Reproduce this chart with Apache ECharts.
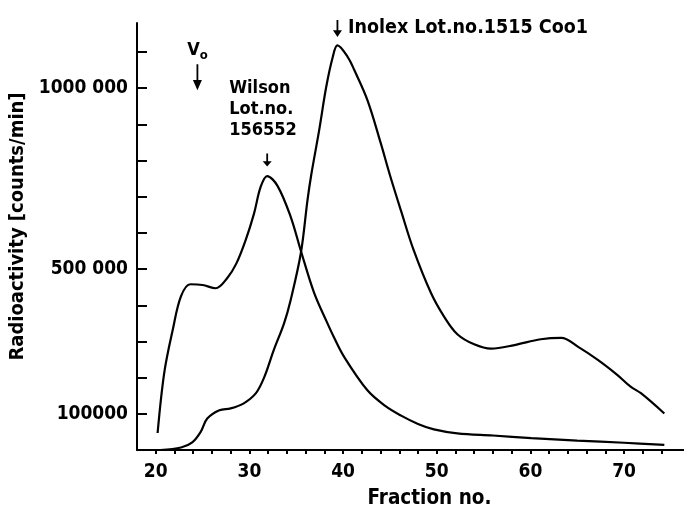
<!DOCTYPE html>
<html>
<head>
<meta charset="utf-8">
<script src="https://cdn.jsdelivr.net/npm/echarts@6/dist/echarts.min.js"></script>
<style>
  html, body { margin: 0; background: #fff; }
  #chart { width: 684px; height: 509px; }
</style>
</head>
<body>
<div id="chart"></div>
<script>
// values (fraction no. vs counts/min)
var wilsonX = [20.2, 20.9, 21.8, 22.7, 23.7, 25.0, 26.4, 27.6, 28.6, 29.6, 30.5, 31.2, 31.9, 33.0, 34.4, 35.5, 36.9, 38.3, 39.0, 40.1, 42.6, 44.5, 46.2, 48.0, 49.7, 52.2, 56.0, 60.1, 65.0, 70.0, 74.3];
var wilsonY = [47000, 212000, 330000, 425000, 458000, 456000, 447000, 474000, 515000, 580000, 654000, 727000, 757000, 730000, 645000, 550000, 435000, 352000, 313000, 258000, 165000, 122000, 95000, 72000, 57000, 46000, 40000, 33000, 26000, 20000, 14000];

var inolexX = [20.5, 22.7, 23.9, 24.8, 25.5, 26.8, 28.0, 29.4, 30.7, 31.6, 32.6, 33.7, 34.4, 35.5, 36.2, 36.6, 37.45, 38.2, 38.9, 39.4, 40.5, 41.2, 42.6, 44.0, 45.0, 46.2, 47.5, 49.4, 50.8, 52.2, 54.0, 55.8, 58.3, 61.1, 63.3, 65.1, 67.2, 69.3, 70.7, 71.8, 74.3];
var inolexY = [0, 7000, 21000, 50000, 87000, 110000, 115000, 129000, 157000, 202000, 276000, 350000, 414000, 545000, 690000, 760000, 884000, 1003000, 1086000, 1118000, 1086000, 1050000, 967000, 850000, 760000, 660000, 555000, 433000, 368000, 320000, 292000, 280000, 290000, 306000, 310000, 285000, 249000, 207000, 175000, 157000, 101000];

var xTicks = [20, 22, 24, 26, 28, 30, 32, 34, 36, 38, 40, 42, 44, 46, 48, 50, 52, 54, 56, 58, 60, 62, 64, 66, 68, 70, 72, 74];
var xLabels = [20, 30, 40, 50, 60, 70];
var yTicks = [100000, 200000, 300000, 400000, 500000, 600000, 700000, 800000, 900000, 1000000, 1100000];
var yLabels = [100000, 500000, 1000000];
var yLabelText = ['100000', '500 000', '1000 000'];

function pairs(xs, ys) {
  return xs.map(function (x, i) { return [x, ys[i]]; });
}

var FONT = 'DejaVu Sans Condensed';
var arrow = 'path://M4,0 L6,0 L6,15 L10,15 L5,25 L0,15 L4,15 Z';

var chart = echarts.init(document.getElementById('chart'));

var option = {
  backgroundColor: '#fff',
  animation: false,
  textStyle: { fontFamily: FONT, fontWeight: 'bold', color: '#000' },
  grid: { left: 137, right: 0, top: 23, bottom: 59, outerBoundsMode: 'none' },
  xAxis: {
    type: 'value',
    min: 18,
    max: 76.4,
    name: 'Fraction no.',
    nameLocation: 'middle',
    nameGap: 38,
    nameTextStyle: { fontFamily: FONT, fontWeight: 'bold', fontSize: 20.5, color: '#000', padding: [0, 0, 0, 38] },
    axisLine: { lineStyle: { color: '#000', width: 2 } },
    axisTick: { customValues: xTicks, length: 4, lineStyle: { color: '#000', width: 2 } },
    axisLabel: {
      customValues: xLabels, margin: 13,
      fontFamily: FONT, fontWeight: 'bold', fontSize: 19, color: '#000'
    },
    splitLine: { show: false }
  },
  yAxis: {
    type: 'value',
    min: 0,
    max: 1180000,
    name: 'Radioactivity [counts/min]',
    nameLocation: 'middle',
    nameGap: 104,
    nameTextStyle: { fontFamily: FONT, fontWeight: 'bold', fontSize: 20, color: '#000', padding: [0, 0, 0, 20] },
    axisLine: { show: true, lineStyle: { color: '#000', width: 2 } },
    axisTick: { customValues: yTicks, inside: true, length: 10, lineStyle: { color: '#000', width: 2 } },
    axisLabel: {
      customValues: yLabels, margin: 9, padding: [6, 0, 0, 0],
      fontFamily: FONT, fontWeight: 'bold', fontSize: 19, color: '#000',
      formatter: function (v) { return yLabelText[yLabels.indexOf(v)]; }
    },
    splitLine: { show: false }
  },
  series: [
    {
      name: 'Wilson',
      type: 'line',
      data: pairs(wilsonX, wilsonY),
      smooth: 0.35,
      symbol: 'none',
      lineStyle: { color: '#000', width: 2.2 },
      markPoint: {
        symbol: arrow,
        symbolSize: [9, 13],
        symbolOffset: [0, -16],
        itemStyle: { color: '#000' },
        label: { show: false },
        data: [
          {
            coord: [31.9, 757000],
            label: {
              show: true, position: 'top', align: 'left', distance: 13, offset: [-38, 0],
              fontFamily: FONT, fontWeight: 'bold', fontSize: 18, color: '#000', lineHeight: 21,
              formatter: 'Wilson\nLot.no.\n156552'
            }
          },
          {
            coord: [24.45, 994000],
            symbolSize: [9, 26],
            symbolOffset: [0, -13],
            label: {
              show: true, position: 'top', distance: 2,
              formatter: '{v|V}{s|o}',
              rich: {
                v: { fontFamily: FONT, fontWeight: 'bold', fontSize: 18, color: '#000' },
                s: { fontFamily: FONT, fontWeight: 'bold', fontSize: 13, color: '#000', padding: [10, 0, 0, 0] }
              }
            }
          }
        ]
      }
    },
    {
      name: 'Inolex',
      type: 'line',
      data: pairs(inolexX, inolexY),
      smooth: 0.35,
      symbol: 'none',
      lineStyle: { color: '#000', width: 2.2 },
      markPoint: {
        symbol: arrow,
        symbolSize: [9, 17],
        symbolOffset: [0, -17],
        itemStyle: { color: '#000' },
        data: [
          {
            coord: [39.4, 1118000],
            label: {
              show: true, position: 'right', distance: 6, padding: [0, 0, 4, 0],
              fontFamily: FONT, fontWeight: 'bold', fontSize: 19.5, color: '#000',
              formatter: 'Inolex Lot.no.1515 Coo1'
            }
          }
        ]
      }
    }
  ]
};

chart.setOption(option);
</script>
</body>
</html>
